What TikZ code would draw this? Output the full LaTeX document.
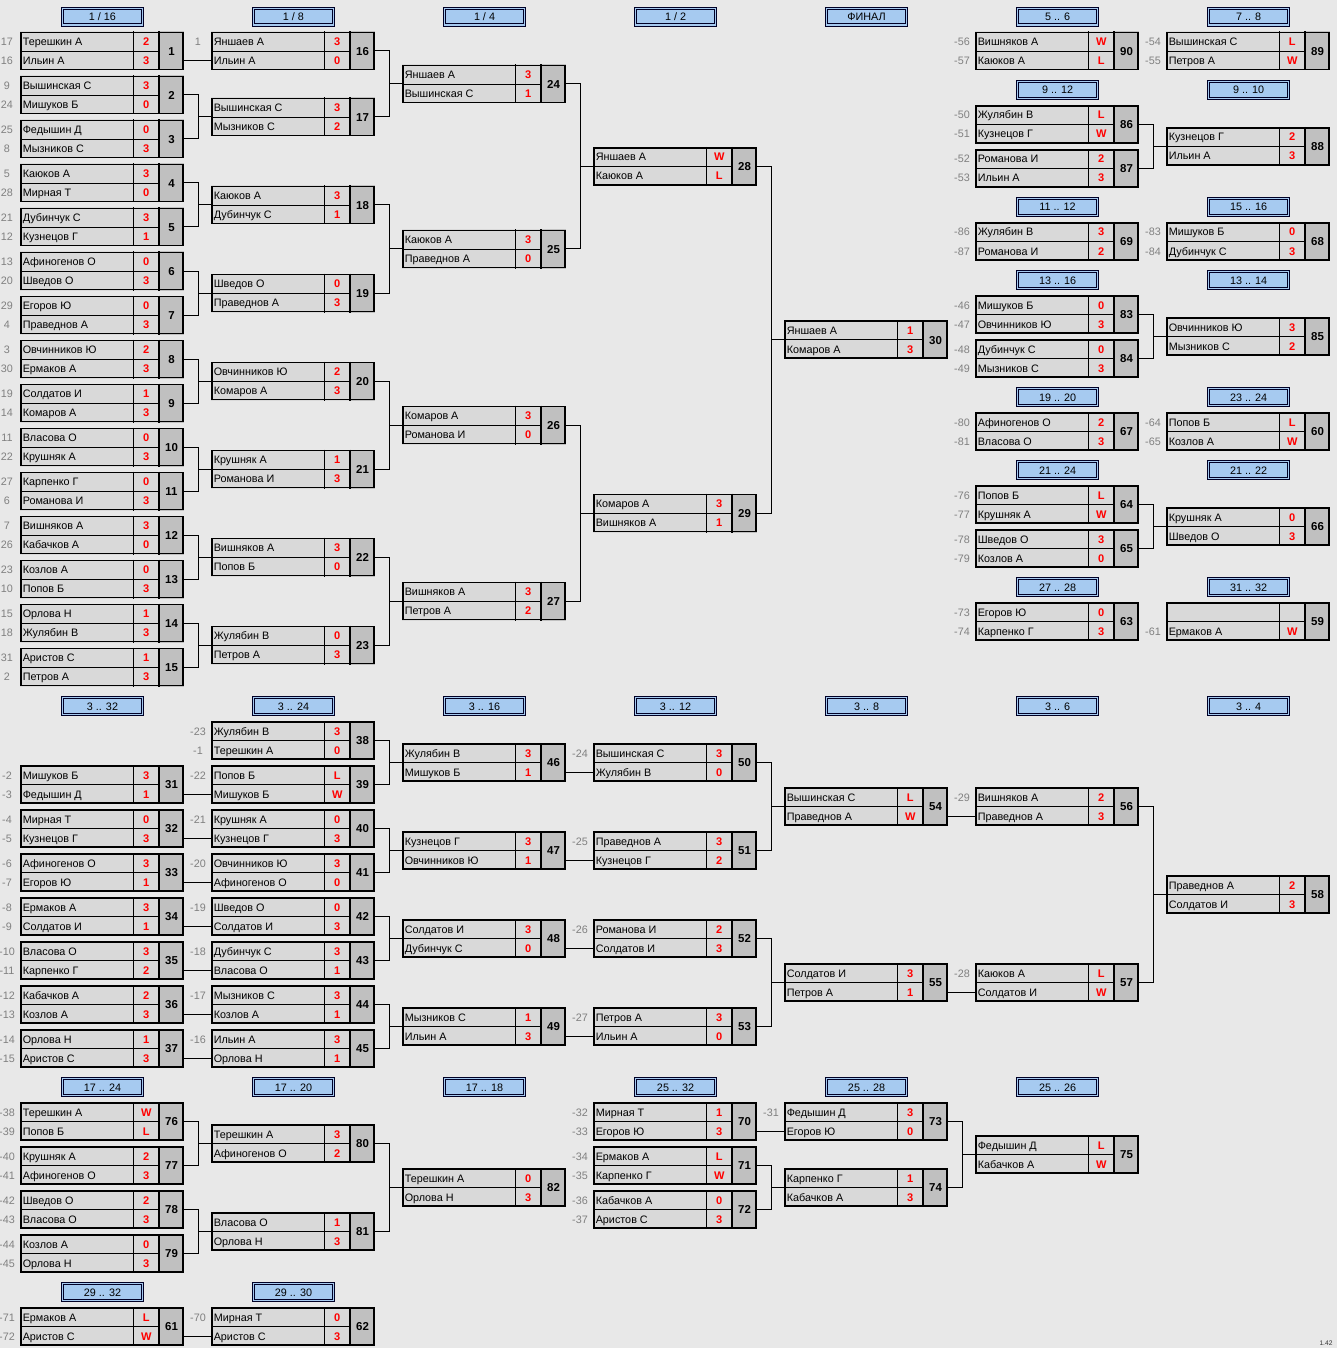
\documentclass[tikz,border=0pt]{standalone}
\usepackage{fontspec}
\setmainfont{Liberation Sans}
\definecolor{bgc}{HTML}{E8E8E8}
\definecolor{namec}{HTML}{D9D9D9}
\definecolor{numc}{HTML}{C0C0C0}
\definecolor{hdrc}{HTML}{A6CAF0}
\definecolor{seedc}{HTML}{808080}
\tikzset{
  box/.style={draw=black, line width=1.4pt, minimum width=121.5pt, minimum height=27.75pt, inner sep=0pt},
  thinl/.style={line width=0.7pt, black},
  thickl/.style={line width=1.4pt, black},
  conn/.style={line width=0.75pt, black},
  namet/.style={anchor=base west, inner sep=0pt, font=\fontsize{8.1pt}{9pt}\selectfont},
  scoret/.style={anchor=base, inner sep=0pt, text=red, font=\fontsize{8.3pt}{9pt}\selectfont\bfseries},
  numt/.style={anchor=base, inner sep=0pt, font=\fontsize{8.6pt}{9pt}\selectfont\bfseries},
  seedt/.style={anchor=base, inner sep=0pt, text=seedc, font=\fontsize{8.1pt}{9pt}\selectfont},
  hdrline/.style={line width=0.7pt, draw=black!85!blue},
  hdrt/.style={anchor=base, inner sep=0pt, font=\fontsize{8.1pt}{9pt}\selectfont}
}
\newcommand\match[9]{%
\begin{scope}[shift={(#2,#3)}]
 \fill[namec] (0,-19.5) rectangle (139.3,19.5);
 \fill[numc] (139.3,-19.5) rectangle (164,19.5);
 \draw[thinl] (0,0) -- (139.3,0);
 \draw[thinl] (113.3,-19.5) -- (113.3,19.5);
 \node[box] (m#1) at (82,0) {};
 \draw[thickl] (139.3,-19.5) -- (139.3,19.5);
 \coordinate (m#1a) at (0,-9.5);
 \coordinate (m#1b) at (0,9.5);
 \node[seedt] (m#1sa) at (-13,-5.5) {#4};
 \node[seedt] (m#1sb) at (-13,13.5) {#7};
 \node[namet] (m#1na) at (2.5,-5.5) {#5};
 \node[namet] (m#1nb) at (2.5,13.5) {#8};
 \node[scoret] (m#1ca) at (126.3,-5.5) {#6};
 \node[scoret] (m#1cb) at (126.3,13.5) {#9};
 \node[numt] (m#1no) at (151.5,4.3) {#1};
\end{scope}}
\newcommand\header[4]{%
\begin{scope}[shift={(#2,#3)}]
 \fill[hdrc] (41.5,-9.5) rectangle (123.5,9.5);
 \draw[hdrline] (41.5,-9.5) rectangle (123.5,9.5);
 \draw[hdrline] (43.8,-7.2) rectangle (121.2,7.2);
 \node[hdrt] (h#1) at (82.5,4) {#4};
\end{scope}}
\newcommand\pairj[3]{\draw[conn] (m#1.east) -- ++(14.5,0) |- (m#2.east); \draw[conn] (m#3.west) -- ++(-12.5,0);}
\newcommand\single[2]{\draw[conn] (m#1.east |- m#2b) -- (m#2b);}
\begin{document}
\begin{tikzpicture}[x=0.75pt,y=-0.75pt]
\fill[bgc] (0,0) rectangle (1337,1348);
\useasboundingbox (0,0) rectangle (1337,1348);
\def\Ca{20}\def\Cb{211}\def\Cc{402}\def\Cd{593}\def\Ce{784}\def\Cf{975}\def\Cg{1166}
% headers
\header{a1}{\Ca}{16.5}{1 / 16}
\header{a2}{\Cb}{16.5}{1 / 8}
\header{a3}{\Cc}{16.5}{1 / 4}
\header{a4}{\Cd}{16.5}{1 / 2}
\header{a5}{\Ce}{16.5}{ФИНАЛ}
\header{a6}{\Cf}{16.5}{5 .. 6}
\header{a7}{\Cg}{16.5}{7 .. 8}
\header{b6}{\Cf}{90}{9 .. 12}
\header{b7}{\Cg}{90}{9 .. 10}
\header{c6}{\Cf}{207}{11 .. 12}
\header{c7}{\Cg}{207}{15 .. 16}
\header{d6}{\Cf}{280}{13 .. 16}
\header{d7}{\Cg}{280}{13 .. 14}
\header{e6}{\Cf}{397}{19 .. 20}
\header{e7}{\Cg}{397}{23 .. 24}
\header{f6}{\Cf}{470}{21 .. 24}
\header{f7}{\Cg}{470}{21 .. 22}
\header{g6}{\Cf}{587}{27 .. 28}
\header{g7}{\Cg}{587}{31 .. 32}
\header{i1}{\Ca}{706}{3 .. 32}
\header{i2}{\Cb}{706}{3 .. 24}
\header{i3}{\Cc}{706}{3 .. 16}
\header{i4}{\Cd}{706}{3 .. 12}
\header{i5}{\Ce}{706}{3 .. 8}
\header{i6}{\Cf}{706}{3 .. 6}
\header{i7}{\Cg}{706}{3 .. 4}
\header{j1}{\Ca}{1087}{17 .. 24}
\header{j2}{\Cb}{1087}{17 .. 20}
\header{j3}{\Cc}{1087}{17 .. 18}
\header{j4}{\Cd}{1087}{25 .. 32}
\header{j5}{\Ce}{1087}{25 .. 28}
\header{j6}{\Cf}{1087}{25 .. 26}
\header{k1}{\Ca}{1292}{29 .. 32}
\header{k2}{\Cb}{1292}{29 .. 30}
% top bracket
\match{1}{\Ca}{51}{17}{Терешкин А}{2}{16}{Ильин А}{3}
\match{2}{\Ca}{95}{9}{Вышинская С}{3}{24}{Мишуков Б}{0}
\match{3}{\Ca}{139}{25}{Федышин Д}{0}{8}{Мызников С}{3}
\match{4}{\Ca}{183}{5}{Каюков А}{3}{28}{Мирная Т}{0}
\match{5}{\Ca}{227}{21}{Дубинчук С}{3}{12}{Кузнецов Г}{1}
\match{6}{\Ca}{271}{13}{Афиногенов О}{0}{20}{Шведов О}{3}
\match{7}{\Ca}{315}{29}{Егоров Ю}{0}{4}{Праведнов А}{3}
\match{8}{\Ca}{359}{3}{Овчинников Ю}{2}{30}{Ермаков А}{3}
\match{9}{\Ca}{403}{19}{Солдатов И}{1}{14}{Комаров А}{3}
\match{10}{\Ca}{447}{11}{Власова О}{0}{22}{Крушняк А}{3}
\match{11}{\Ca}{491}{27}{Карпенко Г}{0}{6}{Романова И}{3}
\match{12}{\Ca}{535}{7}{Вишняков А}{3}{26}{Кабачков А}{0}
\match{13}{\Ca}{579}{23}{Козлов А}{0}{10}{Попов Б}{3}
\match{14}{\Ca}{623}{15}{Орлова Н}{1}{18}{Жулябин В}{3}
\match{15}{\Ca}{667}{31}{Аристов С}{1}{2}{Петров А}{3}
\match{16}{\Cb}{51}{1}{Яншаев А}{3}{}{Ильин А}{0}
\match{17}{\Cb}{117}{}{Вышинская С}{3}{}{Мызников С}{2}
\match{18}{\Cb}{205}{}{Каюков А}{3}{}{Дубинчук С}{1}
\match{19}{\Cb}{293}{}{Шведов О}{0}{}{Праведнов А}{3}
\match{20}{\Cb}{381}{}{Овчинников Ю}{2}{}{Комаров А}{3}
\match{21}{\Cb}{469}{}{Крушняк А}{1}{}{Романова И}{3}
\match{22}{\Cb}{557}{}{Вишняков А}{3}{}{Попов Б}{0}
\match{23}{\Cb}{645}{}{Жулябин В}{0}{}{Петров А}{3}
\match{24}{\Cc}{84}{}{Яншаев А}{3}{}{Вышинская С}{1}
\match{25}{\Cc}{249}{}{Каюков А}{3}{}{Праведнов А}{0}
\match{26}{\Cc}{425}{}{Комаров А}{3}{}{Романова И}{0}
\match{27}{\Cc}{601}{}{Вишняков А}{3}{}{Петров А}{2}
\match{28}{\Cd}{166.5}{}{Яншаев А}{W}{}{Каюков А}{L}
\match{29}{\Cd}{513}{}{Комаров А}{3}{}{Вишняков А}{1}
\match{30}{\Ce}{339.75}{}{Яншаев А}{1}{}{Комаров А}{3}
% right top section
\match{90}{\Cf}{51}{-56}{Вишняков А}{W}{-57}{Каюков А}{L}
\match{89}{\Cg}{51}{-54}{Вышинская С}{L}{-55}{Петров А}{W}
\match{86}{\Cf}{124.5}{-50}{Жулябин В}{L}{-51}{Кузнецов Г}{W}
\match{87}{\Cf}{168.5}{-52}{Романова И}{2}{-53}{Ильин А}{3}
\match{88}{\Cg}{146.5}{}{Кузнецов Г}{2}{}{Ильин А}{3}
\match{69}{\Cf}{241.5}{-86}{Жулябин В}{3}{-87}{Романова И}{2}
\match{68}{\Cg}{241.5}{-83}{Мишуков Б}{0}{-84}{Дубинчук С}{3}
\match{83}{\Cf}{314.5}{-46}{Мишуков Б}{0}{-47}{Овчинников Ю}{3}
\match{84}{\Cf}{358.5}{-48}{Дубинчук С}{0}{-49}{Мызников С}{3}
\match{85}{\Cg}{336.5}{}{Овчинников Ю}{3}{}{Мызников С}{2}
\match{67}{\Cf}{431.5}{-80}{Афиногенов О}{2}{-81}{Власова О}{3}
\match{60}{\Cg}{431.5}{-64}{Попов Б}{L}{-65}{Козлов А}{W}
\match{64}{\Cf}{504.5}{-76}{Попов Б}{L}{-77}{Крушняк А}{W}
\match{65}{\Cf}{548.5}{-78}{Шведов О}{3}{-79}{Козлов А}{0}
\match{66}{\Cg}{526.5}{}{Крушняк А}{0}{}{Шведов О}{3}
\match{63}{\Cf}{621.5}{-73}{Егоров Ю}{0}{-74}{Карпенко Г}{3}
\match{59}{\Cg}{621.5}{}{}{}{-61}{Ермаков А}{W}
% bottom bracket
\match{31}{\Ca}{784.5}{-2}{Мишуков Б}{3}{-3}{Федышин Д}{1}
\match{32}{\Ca}{828.5}{-4}{Мирная Т}{0}{-5}{Кузнецов Г}{3}
\match{33}{\Ca}{872.5}{-6}{Афиногенов О}{3}{-7}{Егоров Ю}{1}
\match{34}{\Ca}{916.5}{-8}{Ермаков А}{3}{-9}{Солдатов И}{1}
\match{35}{\Ca}{960.5}{-10}{Власова О}{3}{-11}{Карпенко Г}{2}
\match{36}{\Ca}{1004.5}{-12}{Кабачков А}{2}{-13}{Козлов А}{3}
\match{37}{\Ca}{1048.5}{-14}{Орлова Н}{1}{-15}{Аристов С}{3}
\match{38}{\Cb}{740.5}{-23}{Жулябин В}{3}{-1}{Терешкин А}{0}
\match{39}{\Cb}{784.5}{-22}{Попов Б}{L}{}{Мишуков Б}{W}
\match{40}{\Cb}{828.5}{-21}{Крушняк А}{0}{}{Кузнецов Г}{3}
\match{41}{\Cb}{872.5}{-20}{Овчинников Ю}{3}{}{Афиногенов О}{0}
\match{42}{\Cb}{916.5}{-19}{Шведов О}{0}{}{Солдатов И}{3}
\match{43}{\Cb}{960.5}{-18}{Дубинчук С}{3}{}{Власова О}{1}
\match{44}{\Cb}{1004.5}{-17}{Мызников С}{3}{}{Козлов А}{1}
\match{45}{\Cb}{1048.5}{-16}{Ильин А}{3}{}{Орлова Н}{1}
\match{46}{\Cc}{762.5}{}{Жулябин В}{3}{}{Мишуков Б}{1}
\match{47}{\Cc}{850.5}{}{Кузнецов Г}{3}{}{Овчинников Ю}{1}
\match{48}{\Cc}{938.5}{}{Солдатов И}{3}{}{Дубинчук С}{0}
\match{49}{\Cc}{1026.5}{}{Мызников С}{1}{}{Ильин А}{3}
\match{50}{\Cd}{762.5}{-24}{Вышинская С}{3}{}{Жулябин В}{0}
\match{51}{\Cd}{850.5}{-25}{Праведнов А}{3}{}{Кузнецов Г}{2}
\match{52}{\Cd}{938.5}{-26}{Романова И}{2}{}{Солдатов И}{3}
\match{53}{\Cd}{1026.5}{-27}{Петров А}{3}{}{Ильин А}{0}
\match{54}{\Ce}{806.5}{}{Вышинская С}{L}{}{Праведнов А}{W}
\match{55}{\Ce}{982.5}{}{Солдатов И}{3}{}{Петров А}{1}
\match{56}{\Cf}{806.5}{-29}{Вишняков А}{2}{}{Праведнов А}{3}
\match{57}{\Cf}{982.5}{-28}{Каюков А}{L}{}{Солдатов И}{W}
\match{58}{\Cg}{894.5}{}{Праведнов А}{2}{}{Солдатов И}{3}
% lower section
\match{76}{\Ca}{1121.5}{-38}{Терешкин А}{W}{-39}{Попов Б}{L}
\match{77}{\Ca}{1165.5}{-40}{Крушняк А}{2}{-41}{Афиногенов О}{3}
\match{78}{\Ca}{1209.5}{-42}{Шведов О}{2}{-43}{Власова О}{3}
\match{79}{\Ca}{1253.5}{-44}{Козлов А}{0}{-45}{Орлова Н}{3}
\match{80}{\Cb}{1143.5}{}{Терешкин А}{3}{}{Афиногенов О}{2}
\match{81}{\Cb}{1231.5}{}{Власова О}{1}{}{Орлова Н}{3}
\match{82}{\Cc}{1187.5}{}{Терешкин А}{0}{}{Орлова Н}{3}
\match{70}{\Cd}{1121.5}{-32}{Мирная Т}{1}{-33}{Егоров Ю}{3}
\match{71}{\Cd}{1165.5}{-34}{Ермаков А}{L}{-35}{Карпенко Г}{W}
\match{72}{\Cd}{1209.5}{-36}{Кабачков А}{0}{-37}{Аристов С}{3}
\match{73}{\Ce}{1121.5}{-31}{Федышин Д}{3}{}{Егоров Ю}{0}
\match{74}{\Ce}{1187.5}{}{Карпенко Г}{1}{}{Кабачков А}{3}
\match{75}{\Cf}{1154.5}{}{Федышин Д}{L}{}{Кабачков А}{W}
\match{61}{\Ca}{1326.5}{-71}{Ермаков А}{L}{-72}{Аристов С}{W}
\match{62}{\Cb}{1326.5}{-70}{Мирная Т}{0}{}{Аристов С}{3}
% connectors
\single{1}{16}
\pairj{2}{3}{17}\pairj{4}{5}{18}\pairj{6}{7}{19}\pairj{8}{9}{20}
\pairj{10}{11}{21}\pairj{12}{13}{22}\pairj{14}{15}{23}
\pairj{16}{17}{24}\pairj{18}{19}{25}\pairj{20}{21}{26}\pairj{22}{23}{27}
\pairj{24}{25}{28}\pairj{26}{27}{29}\pairj{28}{29}{30}
\pairj{86}{87}{88}\pairj{83}{84}{85}\pairj{64}{65}{66}
\single{31}{39}\single{32}{40}\single{33}{41}\single{34}{42}
\single{35}{43}\single{36}{44}\single{37}{45}
\pairj{38}{39}{46}\pairj{40}{41}{47}\pairj{42}{43}{48}\pairj{44}{45}{49}
\single{46}{50}\single{47}{51}\single{48}{52}\single{49}{53}
\pairj{50}{51}{54}\pairj{52}{53}{55}
\single{54}{56}\single{55}{57}
\pairj{56}{57}{58}
\pairj{76}{77}{80}\pairj{78}{79}{81}\pairj{80}{81}{82}
\single{70}{73}\pairj{71}{72}{74}\pairj{73}{74}{75}
\single{61}{62}
\node[inner sep=0pt, font=\fontsize{5pt}{6pt}\selectfont, text=black!80] (ver) at (1326,1343) {1.42};
\end{tikzpicture}
\end{document}
